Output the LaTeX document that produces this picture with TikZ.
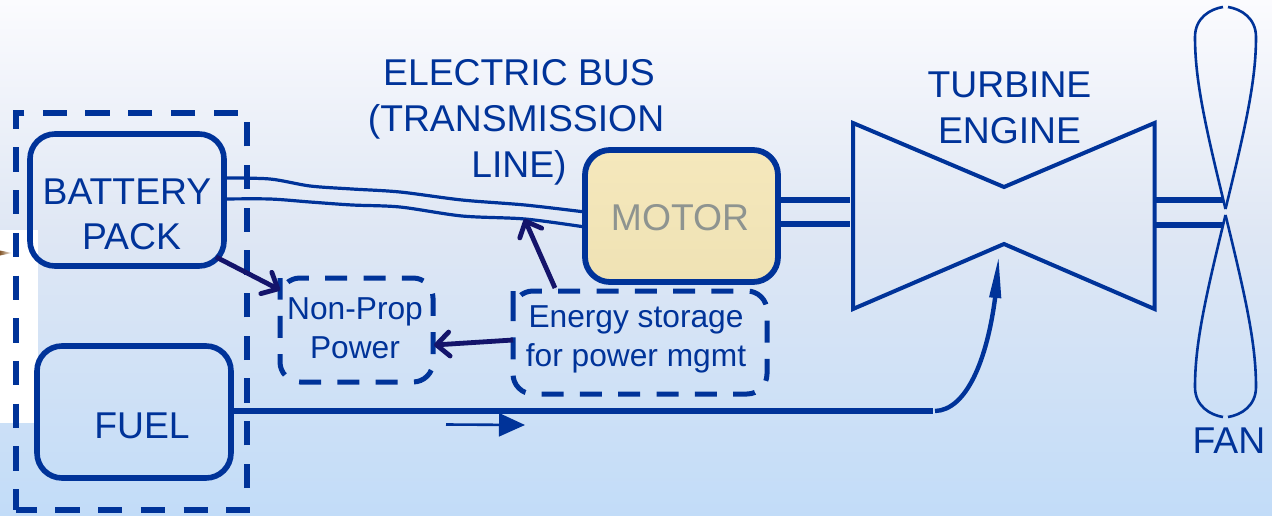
\documentclass[tikz,border=0pt]{standalone}
\usepackage{fontspec}
\setmainfont{Liberation Sans}
\usetikzlibrary{arrows.meta,bending}
\definecolor{navy}{HTML}{003399}
\definecolor{darkarrow}{HTML}{14146B}
\definecolor{bgA}{HTML}{FBFBFE}
\definecolor{bgB}{HTML}{DFE7F4}
\definecolor{bgC}{HTML}{C2DCF8}
\definecolor{motorfillA}{HTML}{F5E8BC}
\definecolor{motorfillB}{HTML}{EFE2B4}
\definecolor{motortext}{HTML}{8E9490}
\tikzset{
  box/.style={draw=navy,line width=5.6pt,rounded corners=25pt,inner sep=0pt,outer sep=0pt},
  dashanchor/.style={inner sep=0pt,outer sep=0pt},
  dashline/.style={draw=navy,line width=5pt,rounded corners=20pt,dash pattern=on 22pt off 16.3pt},
  bigtext/.style={text=navy,inner sep=0pt,font=\fontsize{37.3}{46}\selectfont,align=center},
  smalltext/.style={text=navy,inner sep=0pt,font=\fontsize{31.7}{39}\selectfont,align=center},
  wire/.style={draw=navy,line width=3.2pt},
  shaft/.style={draw=navy,line width=5.6pt},
  enginepath/.style={draw=navy,line width=4pt,line join=miter},
  fanpath/.style={draw=navy,line width=2.6pt},
  ctrl/.style={draw=darkarrow,line width=4.8pt,-{Straight Barb[length=13pt,width=24pt,line width=4.8pt,round]},
    preaction={draw=black,opacity=.18,transform canvas={shift={(1.5pt,-2pt)}}}},
}
\begin{document}
\begin{tikzpicture}[x=1pt,y=-1pt]
\useasboundingbox (0,0) rectangle (1272,516);
% background
\shade[top color=bgA,bottom color=bgB] (0,0) rectangle (1272,230.5);
\shade[top color=bgB,bottom color=bgC] (0,230) rectangle (1272,516);
\fill[white] (0,230) rectangle (38,423);
\shade[left color=black!30!brown,right color=white] (0,250.5) -- (12,253) -- (0,255.5) -- cycle;
% boxes
\node[draw=navy,line width=5.8pt,dash pattern=on 24.3pt off 18.4pt,dash phase=3.3pt,minimum width=231pt,minimum height=397pt,inner sep=0pt,outer sep=0pt] (group) at (131.5,311.5) {};
\node[box,minimum width=194pt,minimum height=132pt] (battery) at (127,200) {};
\node[box,minimum width=194pt,minimum height=132pt] (fuel) at (134,412) {};
\node[dashanchor,minimum width=153pt,minimum height=104pt] (nonprop) at (356.5,330) {};
\draw[dashline] ([yshift=-20pt]nonprop.north west) -- (nonprop.north west) -- (nonprop.north east) -- (nonprop.south east) -- (nonprop.south west) -- cycle;
\node[dashanchor,minimum width=254pt,minimum height=103pt] (storage) at (640,342.5) {};
\draw[dashline] ([yshift=-20pt]storage.north west) -- (storage.north west) -- (storage.north east) -- (storage.south east) -- (storage.south west) -- cycle;
\node[box,top color=motorfillA,bottom color=motorfillB,line width=5.8pt,minimum width=193pt,minimum height=132pt] (motor) at (681.5,216) {};
% labels
\node[bigtext] (lbattery) at (127,214.5) {BATTERY\\[-1pt]\hspace*{9pt}PACK};
\node[bigtext] (lfuel) at (142,426) {FUEL};
\node[bigtext,text=motortext] (lmotor) at (680,218) {MOTOR};
\node[bigtext] (lbus) at (516,122) {\hspace*{6pt}ELECTRIC BUS\\(TRANSMISSION\\\hspace*{6pt}LINE)};
\node[bigtext] (lturbine) at (1009.5,108) {TURBINE\\ENGINE};
\node[bigtext] (lfan) at (1229,441) {FAN};
\node[smalltext] (lnonprop) at (355,328) {Non-Prop\\Power};
\node[smalltext] (lstorage) at (636,339.5) {Energy storage\\for power mgmt};
% electric bus
\coordinate (w1a) at (battery.east |- 0,178);
\coordinate (w1b) at (motor.west |- 0,212);
\coordinate (w2a) at (battery.east |- 0,199);
\coordinate (w2b) at (motor.west |- 0,227);
\draw[wire] plot[smooth,tension=.5] coordinates {(w1a) (270,179) (310,186) (352,189) (400,192) (462,200) (525,205) (w1b)};
\draw[wire] plot[smooth,tension=.5] coordinates {(w2a) (270,199) (310,202) (352,205) (400,207) (462,216) (525,219) (w2b)};
% engine
\draw[enginepath] (853,123) -- (1004,187) -- (1154.5,123) -- (1154.5,309) -- (1004,244) -- (853,309) -- cycle;
\coordinate (eng1) at (850,200);
\coordinate (eng2) at (850,224);
\coordinate (engr1) at (1154.5,200);
\coordinate (engr2) at (1154.5,225);
\coordinate (hub1) at (1223,200);
\coordinate (hub2) at (1223,225);
\draw[shaft] (motor.east |- eng1) -- (eng1);
\draw[shaft] (motor.east |- eng2) -- (eng2);
\draw[shaft] (engr1) -- (hub1);
\draw[shaft] (engr2) -- (hub2);
% fan
\draw[fanpath] (1225.5,209) .. controls (1205,125) and (1195,80) .. (1195,37) .. controls (1195,18) and (1210,9) .. (1223,7);
\draw[fanpath] (1225.5,209) .. controls (1246,125) and (1256,80) .. (1256,37) .. controls (1256,18) and (1241,9) .. (1228,7);
\draw[fanpath] (1225.5,215) .. controls (1205,299) and (1195,344) .. (1195,387) .. controls (1195,406) and (1210,415) .. (1223,417);
\draw[fanpath] (1225.5,215) .. controls (1246,299) and (1256,344) .. (1256,387) .. controls (1256,406) and (1241,415) .. (1228,417);
% fuel line
\coordinate (bend) at (933,411);
\coordinate (bend2) at (935,411);
\coordinate (combustor) at (998.7,256);
\draw[navy,line width=6.2pt] (fuel.east |- bend) -- (bend);
\draw[navy,line width=4.4pt,-{Triangle[length=42pt,width=11pt,flex=1]}] (bend2) .. controls (972,410) and (995,340) .. (combustor);
\coordinate (flowa) at (446,424.5);
\coordinate (flowb) at (525,425);
\draw[navy,line width=2.6pt,-{Triangle[length=26pt,width=23pt]}] (flowa) -- (flowb);
% control arrows
\coordinate (ba) at (216,257);
\coordinate (np) at (280,290);
\coordinate (sa) at (555,288);
\coordinate (bus) at (524.5,219);
\coordinate (sb) at (513,340);
\coordinate (nb) at (434,345);
\draw[ctrl] (ba) -- (np);
\draw[ctrl] (sa) -- (bus);
\draw[ctrl] (sb) -- (nb);
\end{tikzpicture}
\end{document}
